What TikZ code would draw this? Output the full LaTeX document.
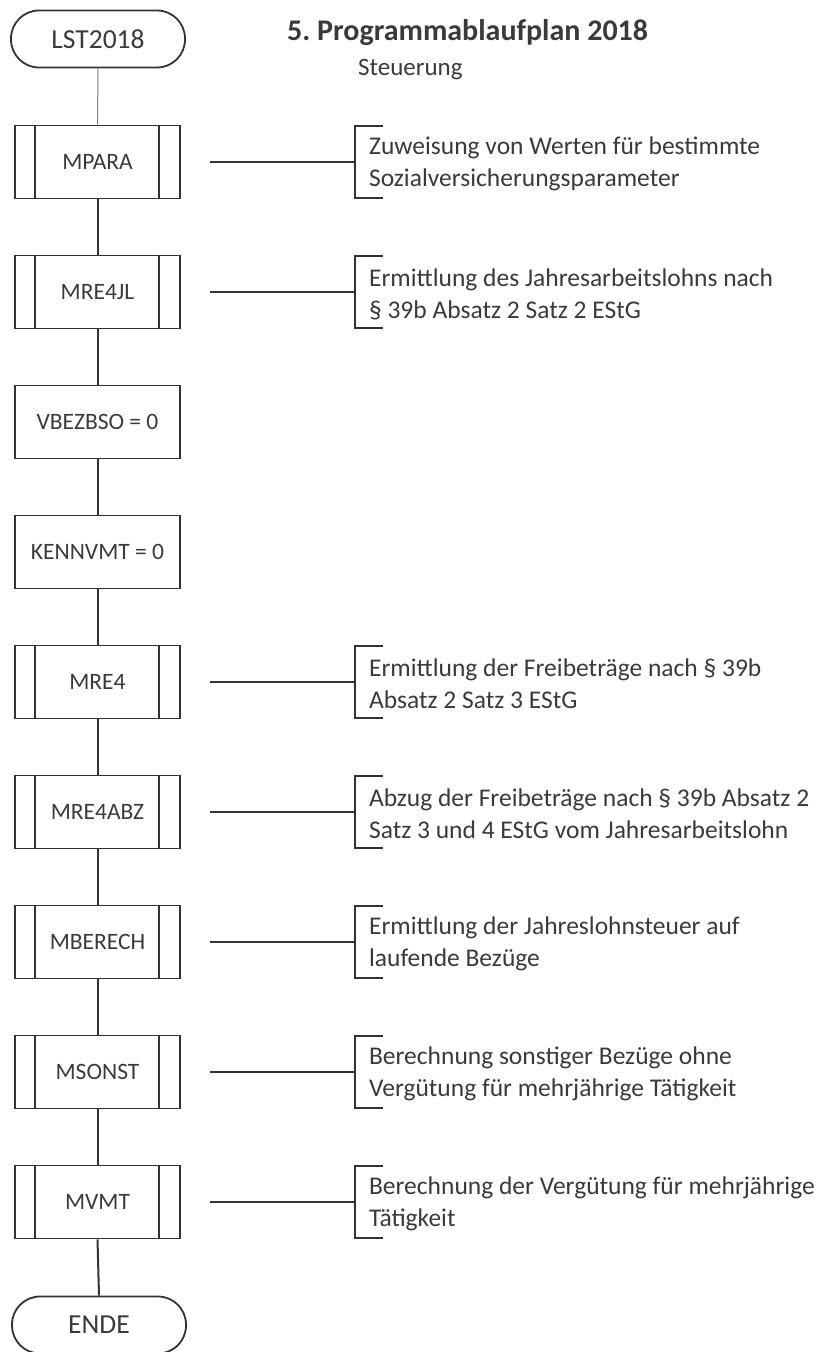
\documentclass[tikz,border=0pt]{standalone}
\usepackage{fontspec}
\setmainfont{Carlito}
\frenchspacing
\usetikzlibrary{calc}
\definecolor{inkc}{HTML}{333333}
\definecolor{txtc}{HTML}{3A3A3A}
\begin{document}
\begin{tikzpicture}[x=1pt,y=-1pt,
  ink/.style={draw=inkc, line width=1.8pt},
  term/.style={ink, rounded corners=28pt, minimum width=174pt, minimum height=57pt,
    inner sep=0pt, font=\fontsize{27.5}{30}\selectfont, text=txtc},
  subbox/.style={ink, minimum width=165pt, minimum height=73pt, inner sep=0pt,
    font=\fontsize{23.5}{26}\selectfont, text=txtc},
  opbox/.style={subbox},
  note/.style={anchor=west, align=left, inner sep=0pt,
    font=\fontsize{25.5}{32}\selectfont, text=txtc},
  link/.style={draw=inkc, line width=2pt},
  thinlink/.style={draw=gray, line width=1pt},
  leader/.style={draw=inkc, line width=1.4pt}
]
\useasboundingbox (0,0) rectangle (822,1352);

% title
\node[anchor=west, inner sep=0pt, text=txtc, font=\fontsize{30}{34}\selectfont\bfseries] (title) at (287,33) {5. Programmablaufplan 2018};
\node[anchor=west, inner sep=0pt, text=txtc, font=\fontsize{25}{28}\selectfont] (subtitle) at (358,70) {Steuerung};

% flow chart column
\node[term] (start) at (98,39) {LST2018};
\node[subbox] (mpara)   at (97.5,162)  {MPARA};
\node[subbox] (mre4jl)  at (97.5,292)  {MRE4JL};
\node[opbox]  (vbez)    at (97.5,422)  {VBEZBSO = 0};
\node[opbox]  (kenn)    at (97.5,552)  {KENNVMT = 0};
\node[subbox] (mre4)    at (97.5,682)  {MRE4};
\node[subbox] (mre4abz) at (97.5,812)  {MRE4ABZ};
\node[subbox] (mberech) at (97.5,942)  {MBERECH};
\node[subbox] (msonst)  at (97.5,1072) {MSONST};
\node[subbox] (mvmt)    at (97.5,1202) {MVMT};
\node[term] (ende) at (99,1325) {ENDE};

% side bars of the subroutine boxes
\foreach \n in {mpara,mre4jl,mre4,mre4abz,mberech,msonst,mvmt}{
  \draw[ink] ($(\n.north west)+(21,0)$) -- ($(\n.south west)+(21,0)$);
  \draw[ink] ($(\n.north east)+(-22,0)$) -- ($(\n.south east)+(-22,0)$);
}

% connectors
\draw[thinlink] (start.south) -- (mpara.north);
\foreach \a/\b in {mpara/mre4jl,mre4jl/vbez,vbez/kenn,kenn/mre4,mre4/mre4abz,
                   mre4abz/mberech,mberech/msonst,msonst/mvmt,mvmt/ende}{
  \draw[link] (\a.south) -- (\b.north);
}

% annotations
\foreach \n/\t in {
  mpara/{Zuweisung von Werten für bestimmte\\Sozialversicherungsparameter},
  mre4jl/{Ermittlung des Jahresarbeitslohns nach\\§ 39b Absatz 2 Satz 2 EStG},
  mre4/{Ermittlung der Freibeträge nach § 39b\\Absatz 2 Satz 3 EStG},
  mre4abz/{Abzug der Freibeträge nach § 39b Absatz 2\\Satz 3 und 4 EStG vom Jahresarbeitslohn},
  mberech/{Ermittlung der Jahreslohnsteuer auf\\laufende Bezüge},
  msonst/{Berechnung sonstiger Bezüge ohne\\Vergütung für mehrjährige Tätigkeit},
  mvmt/{Berechnung der Vergütung für mehrjährige\\Tätigkeit}}{
  \coordinate (\n-s) at ($(\n.east)+(29,0)$);
  \coordinate (\n-b) at ($(\n.east)+(174,0)$);
  \draw[leader] (\n-s) -- (\n-b);
  \draw[leader] ($(\n-b)+(28,-36)$) -- ($(\n-b)+(0,-36)$) -- ($(\n-b)+(0,36)$) -- ($(\n-b)+(28,36)$);
  \node[note] (\n-t) at ($(\n-b)+(14,2)$) {\t};
}
\end{tikzpicture}
\end{document}
